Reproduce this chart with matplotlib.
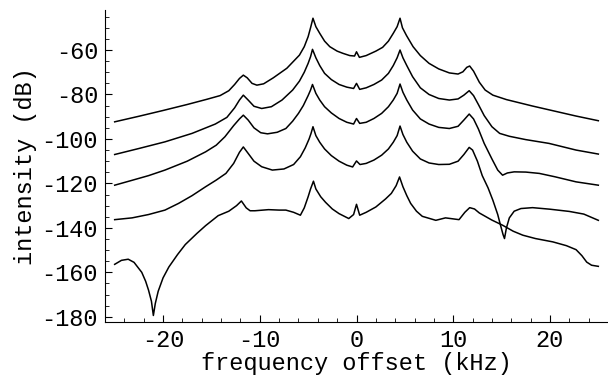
import matplotlib
matplotlib.use("Agg")
import matplotlib.pyplot as plt
from matplotlib.ticker import MultipleLocator

# spectra, top to bottom (x in kHz, y in dB)
x1 = [-25, -22.5, -20, -17.5, -15.5, -14.1, -13.2, -12.6, -12.1, -11.7, -11.3, -10.8, -10.3, -9.6, -8.6,
      -7.2, -5.9, -5.4, -5.0, -4.75, -4.5, -4.2, -3.8, -3.3, -2.76, -2.0, -1.4, -0.7, -0.2, 0.0, 0.3,
      1.0, 2.0, 2.7, 3.3, 3.8, 4.2, 4.5, 4.75, 5.17, 5.85, 6.6, 7.5, 8.5, 9.6, 10.5, 11.0, 11.4, 11.7,
      12.1, 12.7, 13.3, 14.1, 15.5, 18.2, 20.5, 22.7, 25]
y1 = [-92.3, -89.8, -87.2, -84.5, -82.2, -80.5, -78.3, -75.5, -72.8, -71.3, -72.5, -75, -75.8, -75.2, -72.5,
      -68.2, -62.3, -58.5, -54, -50, -45.7, -49.5, -52.5, -56, -58.5, -60.5, -61.5, -62.5, -62.7, -60.8, -63.3,
      -62.5, -60.5, -58.8, -56, -52.5, -49.5, -45.7, -50, -53.5, -58.5, -62.5, -66, -68.5, -70.3, -70.8, -69.8, -67.8, -67.2,
      -69.5, -74.5, -78, -80.3, -82.3, -85.2, -87.5, -89.7, -91.8]

x2 = [-25, -22.5, -19.8, -17, -14.6, -13.4, -12.6, -12.1, -11.7, -11.2, -10.6, -9.8, -8.8, -7.7, -6.6,
      -5.9, -5.4, -5.0, -4.75, -4.55, -4.2, -3.8, -3.3, -2.6, -1.8, -1.0, -0.3, 0.0, 0.33, 1.0, 1.8,
      2.6, 3.3, 3.8, 4.2, 4.5, 4.8, 5.2, 5.8, 6.6, 7.5, 8.5, 9.6, 10.5, 11.1, 11.65, 12.1, 12.6, 13.2,
      14.0, 14.8, 15.8, 17.5, 19.9, 22.7, 25]
y2 = [-107, -104.3, -101.3, -97.5, -93.3, -90.3, -86, -82.5, -80.3, -82.5, -85.3, -86.3, -85.5, -82.5, -78,
      -74, -70, -66, -63, -59.7, -63.5, -67, -70.5, -73.3, -75.5, -76.7, -77.3, -75, -77.7, -77, -75.5,
      -73.5, -70.5, -67, -63.5, -60, -63.5, -67, -72, -77, -80, -81.8, -82.5, -82, -80.3, -78.3, -80.5, -84.5, -89.5,
      -94.5, -97.5, -98.8, -100.3, -102, -105, -106.8]

x3 = [-25, -23.2, -21.5, -19.8, -17.5, -15.6, -14.5, -13.6, -12.7, -12.1, -11.7, -11.2, -10.6, -9.9, -9.2,
      -8.2, -7.3, -6.6, -6.0, -5.5, -5.0, -4.75, -4.55, -4.2, -3.8, -3.3, -2.6, -1.8, -1.0, -0.3, 0.0,
      0.33, 1.0, 1.8, 2.6, 3.3, 3.8, 4.2, 4.5, 4.8, 5.2, 5.8, 6.6, 7.5, 8.5, 9.6, 10.5, 11.1, 11.65,
      12.1, 12.6, 13.2, 14.0, 14.6, 15.1, 15.6, 16.3, 17.5, 18.9, 20.5, 22.7, 25]
y3 = [-120.8, -118.6, -116.5, -114, -110, -105.8, -102.8, -99, -94, -91, -89.3, -91.5, -95, -97.2, -97.7,
      -97, -95.3, -92, -88.5, -85, -80.5, -78, -75.5, -79.5, -82.5, -85.5, -88.3, -90.8, -92.5, -93.3, -90.8,
      -93, -92.5, -90.8, -88.5, -85.5, -82.5, -79.5, -75.3, -79, -82.5, -87, -91, -93.3, -94.8, -95.3, -94.3, -91.5, -88.8,
      -91, -95.5, -102, -109, -114, -116.3, -115.3, -114.8, -114.9, -115.5, -117, -119.3, -120.8]

x4 = [-25, -23.2, -21.5, -19.8, -18.4, -17, -15.6, -14.5, -13.5, -12.7, -12.1, -11.7, -11.2, -10.6, -9.8,
      -8.7, -7.5, -6.5, -5.8, -5.3, -4.9, -4.7, -4.5, -4.2, -3.8, -3.3, -2.6, -1.8, -1.0, -0.4, 0.0,
      0.36, 1.0, 1.8, 2.6, 3.3, 3.8, 4.2, 4.5, 4.8, 5.2, 5.8, 6.6, 7.5, 8.5, 9.6, 10.5, 11.1, 11.65,
      12.0, 12.5, 13.0, 13.6, 14.1, 14.6, 14.9, 15.15, 15.3, 15.5, 15.8, 16.3, 17.0, 18.2, 20, 22, 23.5, 25]
y4 = [-136.3, -135.5, -134, -132, -129, -125.5, -121.5, -118.5, -115.5, -111, -106, -103.6, -106.5, -110, -112.5,
      -114, -113.5, -111.5, -108, -104, -100, -97.5, -94.5, -98.5, -101.5, -104.5, -107.5, -110, -111.8, -112.6, -109.9,
      -111.5, -111, -109.5, -107.3, -104.5, -101.5, -98.5, -94.2, -98, -101.5, -105.5, -109, -110.8, -111.5, -111.4, -110, -107, -103.8,
      -105, -110, -116.5, -122, -127.6, -134, -139, -143, -144.8, -140, -135.5, -132.5, -131.3, -130.9, -131.6, -132.6, -133.8, -136.6]

x5 = [-25, -24.3, -23.6, -23.0, -22.2, -21.8, -21.5, -21.2, -21.0, -20.8, -20.5, -20.0, -19.4, -18.5, -17.7,
      -16.5, -15.6, -14.3, -13.2, -12.4, -11.9, -11.4, -11.0, -10.5, -9.1, -8.0, -7.3, -6.5, -5.8, -5.4, -5.0,
      -4.75, -4.45, -4.2, -3.7, -3.2, -2.5, -1.8, -0.8, -0.3, 0.0, 0.33, 1.0, 2.0, 3.0, 3.6, 4.1, 4.45,
      4.8, 5.2, 5.6, 6.2, 6.8, 8.2, 9.2, 10.6, 11.2, 11.7, 12.2, 12.7, 14, 15.1, 16.2, 17.2, 18.5, 20.3,
      21.7, 22.7, 23.3, 23.8, 24.3, 25]
y5 = [-156.4, -154.6, -154.1, -155.5, -160, -164, -168, -173, -179.4, -174, -168.5, -162.5, -157.6, -152, -147.5,
      -142.5, -139, -134.5, -132.5, -130, -127.9, -131, -132.3, -132.3, -131.8, -132, -132, -133, -134.3, -131, -126,
      -122.5, -119, -122.5, -126, -128.5, -131.5, -133.6, -135.8, -134, -129.4, -134.3, -133, -130.6, -127, -124.5, -121, -117.1,
      -121.5, -125.5, -129, -132.5, -134.8, -136.6, -135.5, -136.3, -133, -130.9, -131.5, -133.3, -136.5, -138.8, -141.5, -143.3, -144.8, -146.3,
      -148, -149.8, -152.5, -155.4, -156.8, -157.3]

curves = [(x1, y1), (x2, y2), (x3, y3), (x4, y4), (x5, y5)]

plt.rcParams["font.family"] = ["Liberation Mono", "DejaVu Sans Mono"]
plt.rcParams["axes.unicode_minus"] = False

fig = plt.figure(figsize=(6.08, 3.77), dpi=100)
ax = fig.add_axes([105 / 608, 1 - 321.7 / 377, 503 / 608, 311.7 / 377])
for x, y in curves:
    ax.plot(x, y, color="black", lw=1.1)

ax.set_xlim(-26, 26)
ax.set_ylim(-182.2, -42)
ax.xaxis.set_major_locator(MultipleLocator(10))
ax.xaxis.set_minor_locator(MultipleLocator(2))
ax.yaxis.set_major_locator(MultipleLocator(20))
ax.yaxis.set_minor_locator(MultipleLocator(5))
ax.tick_params(which="major", direction="in", length=5, width=0.8, labelsize=17, pad=5)
ax.tick_params(which="minor", direction="in", length=3, width=0.6)
for s in ("top", "right"):
    ax.spines[s].set_visible(False)
for s in ("left", "bottom"):
    ax.spines[s].set_linewidth(0.8)

ax.set_xlabel("frequency offset (kHz)", fontsize=17, labelpad=0)
ax.set_ylabel("intensity (dB)", fontsize=17, labelpad=3)

fig.savefig("out.png", dpi=100)
